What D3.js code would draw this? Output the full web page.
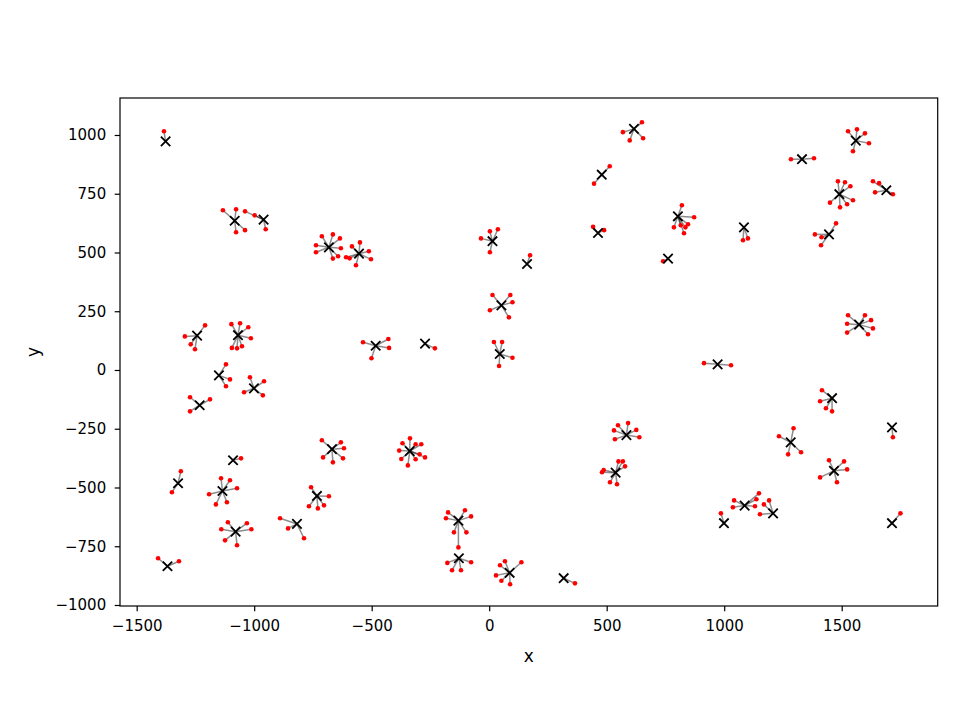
<!DOCTYPE html>
<html>
<head>
<meta charset="utf-8">
<script src="https://cdn.jsdelivr.net/npm/d3@7"></script>
<style>
  body { margin: 0; background: #fff; }
  text { font-family: "DejaVu Sans", sans-serif; }
</style>
</head>
<body>
<script>
// cluster centres (black x), [x, y]
var centers = [
  [-1377, 973], [-1083, 635], [-960, 640], [-682, 522], [-554, 495],
  [-1243, 146], [-1069, 148], [-483, 103], [616, 1026], [479, 831],
  [14, 548], [161, 451], [463, 583], [761, 474], [52, 275],
  [-273, 112], [45, 68], [1560, 976], [1331, 897], [1490, 748],
  [1690, 765], [803, 654], [1084, 607], [1446, 577], [1574, 193],
  [-1150, -23], [-1001, -78], [-1232, -150], [-669, -337], [-1090, -384],
  [-1324, -482], [-1135, -515], [-733, -536], [-818, -655], [-1079, -688],
  [-1369, -835], [-338, -345], [584, -277], [538, -437], [-131, -641],
  [-129, -801], [87, -863], [317, -886], [972, 24], [1459, -120],
  [1714, -244], [1283, -308], [1467, -429], [1087, -577], [1208, -610],
  [999, -652], [1714, -652]
];

// member points (red dots), [cluster, x, y]
var members = [
  [0, -1384, 1016],
  [1, -1133, 680], [1, -1077, 684], [1, -1077, 586], [1, -1039, 595],
  [2, -1039, 675], [2, -998, 658], [2, -951, 599],
  [3, -712, 569], [3, -665, 577], [3, -635, 560], [3, -737, 531], [3, -631, 518], [3, -737, 501], [3, -665, 474], [3, -643, 484],
  [4, -550, 543], [4, -584, 526], [4, -512, 505], [4, -609, 480], [4, -594, 475], [4, -503, 471], [4, -567, 446],
  [5, -1209, 190], [5, -1295, 143], [5, -1270, 109], [5, -1252, 88],
  [6, -1097, 195], [6, -1060, 199], [6, -1025, 182], [6, -1014, 135], [6, -1095, 94], [6, -1073, 92], [6, -1052, 101],
  [7, -537, 118], [7, -429, 132], [7, -426, 94], [7, -501, 50],
  [8, 650, 1054], [8, 569, 1012], [8, 598, 977], [8, 655, 986],
  [9, 513, 867], [9, 446, 793],
  [10, 37, 599], [10, 3, 590], [10, -35, 560], [10, 3, 501],
  [11, 174, 488],
  [12, 442, 609], [12, 489, 595],
  [13, 740, 463],
  [14, 14, 319], [14, 90, 319], [14, 99, 288], [14, 3, 254], [14, 84, 224],
  [15, -231, 92],
  [16, 20, 119], [16, 55, 119], [16, 99, 52], [16, 42, 17],
  [17, 1527, 1016], [17, 1565, 1024], [17, 1599, 1007], [17, 1616, 965], [17, 1548, 931],
  [18, 1284, 897], [18, 1382, 901],
  [19, 1484, 803], [19, 1514, 799], [19, 1537, 782], [19, 1450, 712], [19, 1493, 692], [19, 1523, 705], [19, 1548, 722],
  [20, 1633, 803], [20, 1659, 795], [20, 1642, 756], [20, 1718, 748],
  [21, 820, 701], [21, 872, 650], [21, 786, 607], [21, 815, 616], [21, 835, 607], [21, 846, 620], [21, 829, 582],
  [22, 1080, 552], [22, 1101, 560],
  [23, 1476, 624], [23, 1386, 577], [23, 1414, 565], [23, 1412, 531],
  [24, 1527, 233], [24, 1599, 233], [24, 1625, 212], [24, 1523, 197], [24, 1633, 177], [24, 1523, 159], [24, 1612, 152],
  [25, -1120, 24], [25, -1103, -40], [25, -1120, -69],
  [26, -1018, -31], [26, -958, -48], [26, -1043, -95], [26, -963, -108],
  [27, -1273, -116], [27, -1188, -125], [27, -1273, -176],
  [28, -712, -299], [28, -631, -308], [28, -618, -333], [28, -707, -372], [28, -622, -376], [28, -665, -393],
  [29, -1056, -376],
  [30, -1312, -431], [30, -1350, -520],
  [31, -1141, -461], [31, -1103, -469], [31, -1073, -503], [31, -1192, -529], [31, -1163, -572], [31, -1116, -563],
  [32, -758, -499], [32, -682, -537], [32, -767, -580], [32, -729, -589], [32, -703, -576],
  [33, -890, -631], [33, -856, -674], [33, -788, -716],
  [34, -1112, -648], [34, -1031, -652], [34, -1140, -678], [34, -1012, -678], [34, -1124, -725], [34, -1073, -746],
  [35, -1409, -801], [35, -1320, -814],
  [36, -383, -343], [36, -374, -379], [36, -337, -291], [36, -369, -312], [36, -313, -316], [36, -289, -316], [36, -296, -359], [36, -273, -372], [36, -346, -406], [36, -313, -380],
  [37, 591, -226], [37, 548, -235], [37, 531, -257], [37, 626, -255], [37, 639, -286], [37, 535, -295],
  [38, 550, -389], [38, 569, -389], [38, 578, -410], [38, 487, -426], [38, 480, -435], [38, 514, -478], [38, 544, -486],
  [39, -103, -597], [39, -175, -606], [39, -184, -631], [39, -77, -623], [39, -150, -691], [39, -97, -691], [39, -131, -755],
  [40, -178, -821], [40, -77, -818], [40, -158, -852], [40, -120, -852],
  [41, 67, -814], [41, 137, -818], [41, 46, -831], [41, 29, -874], [41, 52, -897], [41, 89, -912],
  [42, 365, -908],
  [43, 914, 29], [43, 1029, 20],
  [44, 1416, -86], [44, 1408, -133], [44, 1433, -163], [44, 1459, -176],
  [45, 1718, -286],
  [46, 1295, -248], [46, 1233, -282], [46, 1327, -350], [46, 1272, -359],
  [47, 1446, -384], [47, 1510, -389], [47, 1523, -423], [47, 1408, -457], [47, 1480, -478],
  [48, 1148, -525], [48, 1042, -555], [48, 1137, -550], [48, 1037, -584], [48, 1131, -580],
  [49, 1191, -555], [49, 1169, -572], [49, 1152, -614],
  [50, 986, -610],
  [51, 1750, -610]
];

var xTicks = [-1500, -1000, -500, 0, 500, 1000, 1500];
var yTicks = [-1000, -750, -500, -250, 0, 250, 500, 750, 1000];

var width = 960, height = 720;
var plotLeft = 120, plotRight = 937.7, plotTop = 98, plotBottom = 606;

var svg = d3.select("body").append("svg")
    .attr("width", width)
    .attr("height", height);

svg.append("rect")
    .attr("width", width)
    .attr("height", height)
    .attr("fill", "#fff");

var x = d3.scaleLinear().domain([-1571, 1908.5]).range([plotLeft, plotRight]);
var y = d3.scaleLinear().domain([-1004.3, 1157.4]).range([plotBottom, plotTop]);

// links centre -> member
svg.append("g").selectAll("line")
    .data(members).enter()
    .append("line")
    .attr("x1", function(d){ return x(centers[d[0]][0]); })
    .attr("y1", function(d){ return y(centers[d[0]][1]); })
    .attr("x2", function(d){ return x(d[1]); })
    .attr("y2", function(d){ return y(d[2]); })
    .attr("stroke", "#000")
    .attr("stroke-opacity", 0.45)
    .attr("stroke-width", 1.5);

svg.append("g").selectAll("circle")
    .data(members).enter()
    .append("circle")
    .attr("cx", function(d){ return x(d[1]); })
    .attr("cy", function(d){ return y(d[2]); })
    .attr("r", 2.3)
    .attr("fill", "red");

svg.append("g").selectAll("path")
    .data(centers).enter()
    .append("path")
    .attr("d", "M-4.7,-4.7L4.7,4.7M-4.7,4.7L4.7,-4.7")
    .attr("transform", function(d){ return "translate(" + x(d[0]) + "," + y(d[1]) + ")"; })
    .attr("stroke", "#000")
    .attr("stroke-width", 1.8)
    .attr("fill", "none");

// axes
var fmt = d3.format("d");
var xAxis = svg.append("g")
    .attr("transform", "translate(0," + plotBottom + ")")
    .call(d3.axisBottom(x).tickValues(xTicks).tickFormat(fmt).tickSize(5.3).tickSizeOuter(0).tickPadding(9.5));
var yAxis = svg.append("g")
    .attr("transform", "translate(" + plotLeft + ",0)")
    .call(d3.axisLeft(y).tickValues(yTicks).tickFormat(fmt).tickSize(5.3).tickSizeOuter(0).tickPadding(8.5));

[xAxis, yAxis].forEach(function(a){
  a.select(".domain").remove();
  a.selectAll(".tick line").attr("stroke", "#000").attr("stroke-width", 1.2);
  a.selectAll(".tick text")
    .attr("fill", "#000")
    .style("font-size", "15px")
    .style("font-family", "DejaVu Sans");
});

svg.append("rect")
    .attr("x", plotLeft)
    .attr("y", plotTop)
    .attr("width", plotRight - plotLeft)
    .attr("height", plotBottom - plotTop)
    .attr("fill", "none")
    .attr("stroke", "#000")
    .attr("stroke-width", 1.2);

svg.append("text")
    .attr("x", (plotLeft + plotRight) / 2)
    .attr("y", 661.5)
    .attr("text-anchor", "middle")
    .style("font-size", "17px")
    .text("x");

svg.append("text")
    .attr("transform", "translate(38.5," + ((plotTop + plotBottom) / 2) + ") rotate(-90)")
    .attr("text-anchor", "middle")
    .style("font-size", "17px")
    .text("y");
</script>
</body>
</html>
